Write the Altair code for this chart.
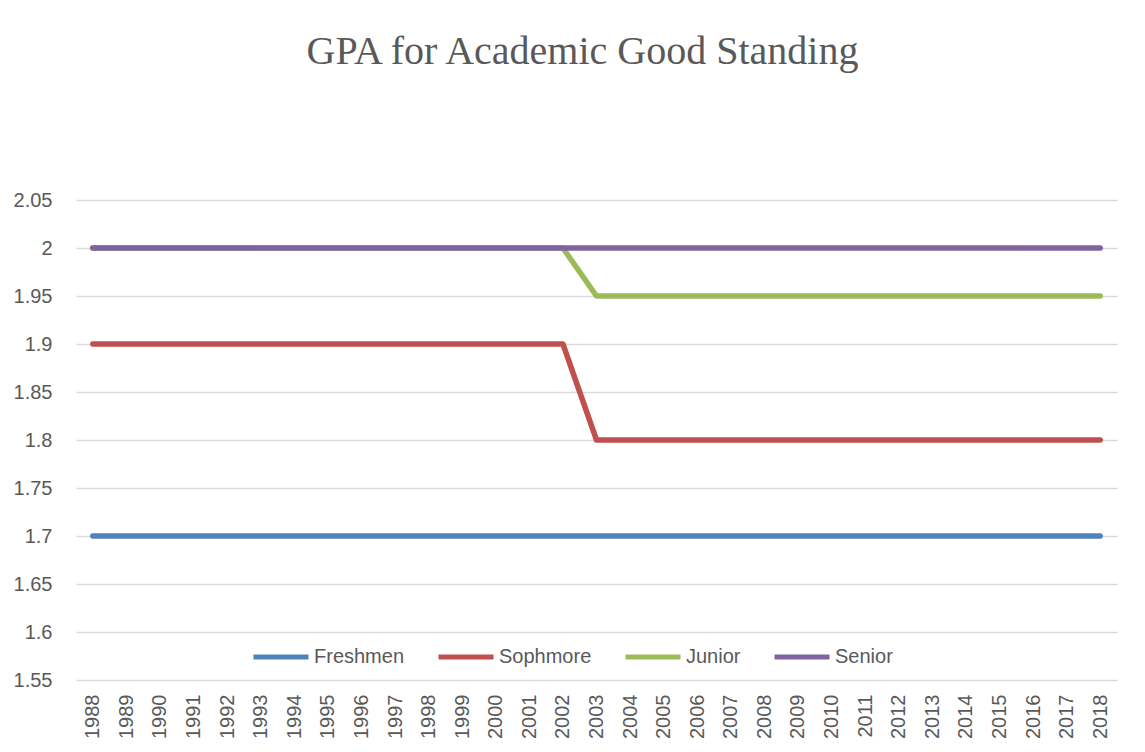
import altair as alt
import pandas as pd

years = [str(y) for y in range(1988, 2019)]
freshmen = [1.7, 1.7, 1.7, 1.7, 1.7, 1.7, 1.7, 1.7, 1.7, 1.7, 1.7, 1.7, 1.7, 1.7, 1.7,
            1.7, 1.7, 1.7, 1.7, 1.7, 1.7, 1.7, 1.7, 1.7, 1.7, 1.7, 1.7, 1.7, 1.7, 1.7, 1.7]
sophmore = [1.9, 1.9, 1.9, 1.9, 1.9, 1.9, 1.9, 1.9, 1.9, 1.9, 1.9, 1.9, 1.9, 1.9, 1.9,
            1.8, 1.8, 1.8, 1.8, 1.8, 1.8, 1.8, 1.8, 1.8, 1.8, 1.8, 1.8, 1.8, 1.8, 1.8, 1.8]
junior = [2.0, 2.0, 2.0, 2.0, 2.0, 2.0, 2.0, 2.0, 2.0, 2.0, 2.0, 2.0, 2.0, 2.0, 2.0,
          1.95, 1.95, 1.95, 1.95, 1.95, 1.95, 1.95, 1.95, 1.95, 1.95, 1.95, 1.95, 1.95, 1.95, 1.95, 1.95]
senior = [2.0, 2.0, 2.0, 2.0, 2.0, 2.0, 2.0, 2.0, 2.0, 2.0, 2.0, 2.0, 2.0, 2.0, 2.0,
          2.0, 2.0, 2.0, 2.0, 2.0, 2.0, 2.0, 2.0, 2.0, 2.0, 2.0, 2.0, 2.0, 2.0, 2.0, 2.0]
series_names = ["Freshmen", "Sophmore", "Junior", "Senior"]
series_colors = ["#4f81bd", "#c0504d", "#9bbb59", "#8064a2"]
y_ticks = [1.55, 1.6, 1.65, 1.7, 1.75, 1.8, 1.85, 1.9, 1.95, 2.0, 2.05]

rows = []
for name, vals in zip(series_names, [freshmen, sophmore, junior, senior]):
    for yr, v in zip(years, vals):
        rows.append({"Year": yr, "GPA": v, "Class": name, "order": series_names.index(name)})
df = pd.DataFrame(rows)

font = "Liberation Sans"
gray = "#595959"

chart = alt.Chart(df).mark_line(strokeWidth=5.5, strokeCap="round", strokeJoin="round").encode(
    x=alt.X("Year:O", sort=years, title=None,
            axis=alt.Axis(labelAngle=-90, labelFontSize=20, labelFont=font, labelColor=gray,
                          ticks=False, domain=False, labelPadding=14, grid=False)),
    y=alt.Y("GPA:Q", title=None,
            scale=alt.Scale(domain=[1.55, 2.05], nice=False, zero=False),
            axis=alt.Axis(values=y_ticks, format=".2~f", labelFontSize=20, labelFont=font,
                          labelColor=gray, ticks=False, domain=False, labelPadding=24,
                          gridColor="#d9d9d9", gridWidth=1.5)),
    color=alt.Color("Class:N", sort=series_names,
                    scale=alt.Scale(domain=series_names, range=series_colors),
                    legend=alt.Legend(title=None, orient="none", direction="horizontal",
                                      legendX=175, legendY=427, symbolType="stroke",
                                      symbolSize=3025, symbolStrokeWidth=5,
                                      labelFontSize=20, labelFont=font, labelColor=gray,
                                      labelOffset=3, columnPadding=23, padding=0)),
    order=alt.Order("order:Q"),
    detail="Class:N",
).properties(
    width=1041,
    height=480,
    title=alt.TitleParams("GPA for Academic Good Standing", font="Liberation Serif",
                          fontSize=40, fontWeight="normal", color=gray, anchor="middle",
                          baseline="alphabetic", offset=86, dx=-14),
    autosize=alt.AutoSizeParams(type="none"),
    padding={"left": 68, "top": 192, "right": 20, "bottom": 64},
).configure_view(stroke=None)

chart.save("out.html", embed_options={"renderer": "svg", "actions": False})
